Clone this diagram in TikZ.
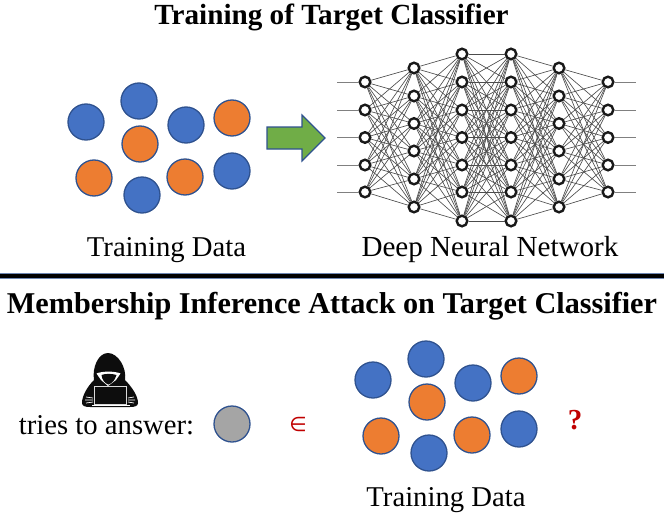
\documentclass[tikz,border=0pt]{standalone}
\usepackage{fontspec}
\setmainfont{Liberation Serif}
\newfontfamily\symbolfont{DejaVu Sans}
\definecolor{dotblue}{HTML}{4472C4}
\definecolor{dotorange}{HTML}{ED7D31}
\definecolor{dotedge}{HTML}{2F528F}
\definecolor{arrowgreen}{HTML}{70AD47}
\definecolor{dotgrey}{HTML}{A5A5A5}
\definecolor{markred}{HTML}{C00000}
\tikzset{
  bluedot/.style={circle, draw=dotedge, line width=1.3pt, fill=dotblue, minimum size=36pt, inner sep=0pt},
  orangedot/.style={bluedot, fill=dotorange},
  greydot/.style={bluedot, fill=dotgrey},
  neuron/.style={circle, draw=black!90, line width=2.4pt, fill=white, minimum size=10.6pt, inner sep=0pt},
  synapse/.style={draw=black!70, line width=0.65pt},
  stub/.style={draw=black!50, line width=1pt},
  titletext/.style={font=\fontsize{29.2}{32}\selectfont\bfseries, anchor=base},
  bodytext/.style={font=\fontsize{28.7}{32}\selectfont, anchor=base}
}
\newcommand{\datacloud}[3]{%
  \foreach \px/\py/\sty [count=\i] in {86/122/bluedot, 139/101/bluedot, 186/125/bluedot, 232/118/orangedot,
      140/144/orangedot, 94/178/orangedot, 142/195/bluedot, 185/177/orangedot, 232/171/bluedot}
    \node[\sty] (#1\i) at (\px+#2, \py+#3) {};
}
\begin{document}
\begin{tikzpicture}[x=1pt, y=-1pt]
    \useasboundingbox (0,0) rectangle (664,522);

    % Titles
    \node[titletext] (title1) at (331.5,24.5) {Training of Target Classifier};
    \node[titletext, font=\fontsize{30.2}{32}\selectfont\bfseries] (title2) at (332,313) {Membership Inference Attack on Target Classifier};

    % Divider
    \fill[dotedge!70!white] (0,273) rectangle (664,279);
    \fill[black] (0,274.4) rectangle (664,277.6);

    % Training data
    \datacloud{top}{0}{0}
    \node[bodytext] (toplabel) at (166.5,256) {Training Data};

    % Block arrow
    \draw[draw=dotedge, line width=1.1pt, fill=arrowgreen]
        (267,127) -- (302,127) -- (302,115) -- (325,138) -- (302,161) -- (302,149) -- (267,149) -- cycle;

    % Network layers
    \foreach \lx/\ly [count=\l] in {365/1, 414/2, 462/3, 511/3, 559/2, 608/1} {
      \ifnum\ly=1
        \foreach \j/\ny in {1/82, 2/110, 3/137.5, 4/165, 5/192}
          \node[neuron] (n\l-\j) at (\lx,\ny) {};
      \fi
      \ifnum\ly=2
        \foreach \j/\ny in {1/68, 2/96, 3/123.5, 4/151, 5/179, 6/207}
          \node[neuron] (n\l-\j) at (\lx,\ny) {};
      \fi
      \ifnum\ly=3
        \foreach \j/\ny in {1/54, 2/82, 3/110, 4/137.5, 5/165, 6/192, 7/221}
          \node[neuron] (n\l-\j) at (\lx,\ny) {};
      \fi
    }
    % Connections between layers
    \foreach \a/\na/\b/\nb in {1/5/2/6, 2/6/3/7, 3/7/4/7, 4/7/5/6, 5/6/6/5}
      \foreach \i in {1,...,\na}
        \foreach \j in {1,...,\nb}
          \draw[synapse] (n\a-\i) -- (n\b-\j);
    % Open ends on both sides
    \foreach \j/\ny in {1/82, 2/110, 3/137.5, 4/165, 5/192} {
      \coordinate (in\j) at (337,\ny);
      \coordinate (out\j) at (636,\ny);
      \draw[stub] (in\j) -- (n1-\j);
      \draw[stub] (n6-\j) -- (out\j);
    }
    \node[bodytext, font=\fontsize{29.1}{32}\selectfont] (netlabel) at (490,256) {Deep Neural Network};

    % Hooded figure
    \fill[black!95] (82,403) .. controls (82,396) and (87,387) .. (94,380)
        .. controls (92,368) and (98,353) .. (108,353)
        .. controls (118,353) and (127,368) .. (125,380)
        .. controls (132,387) and (138,396) .. (138,403)
        .. controls (138,406) and (135,407) .. (130,407) -- (90,407)
        .. controls (85,407) and (82,406) .. (82,403) -- cycle;
    \fill[white] (96.5,373.5) .. controls (102,371) and (115,371) .. (120.5,373.5)
        -- (116,380) -- (108,386) -- (101,380) -- cycle;
    \fill[black!95] (101.5,375) .. controls (105,373.5) and (112,373.5) .. (116.5,375)
        .. controls (115,380) and (112,383.5) .. (108.5,384.5)
        .. controls (105,383.5) and (102,380) .. (101.5,375) -- cycle;
    \draw[white!85!black, line width=0.6pt] (94.5,386.5) rectangle (126.5,404);
    \draw[white, line width=0.6pt] (92,405.5) -- (130,405.5);
    \draw[white, line width=0.7pt] (86,397) -- (93,398) (85,400) -- (93,400) (86,403) -- (93,402)
        (128,398) -- (134,397) (128,400) -- (135,400) (128,402) -- (134,403);

    % Attack question
    \node[bodytext] (asklabel) at (106.5,434) {tries to answer:};
    \node[greydot] (query) at (232,424) {};
    \node[anchor=center, text=markred, font=\fontsize{20}{24}\selectfont\symbolfont] (member) at (298,424.5) {∈};
    \datacloud{bot}{287}{258}
    \node[anchor=center, text=markred, font=\fontsize{29}{32}\selectfont\bfseries] (ask) at (575,420) {?};
    \node[bodytext] (botlabel) at (446,506) {Training Data};
\end{tikzpicture}
\end{document}
